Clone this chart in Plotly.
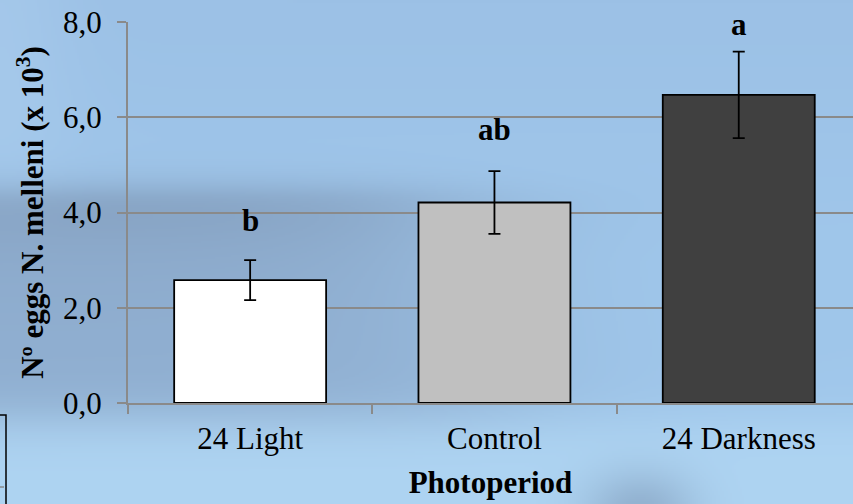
import base64
import struct
import zlib

import numpy as np
import plotly.graph_objects as go

# ---- data ----
photoperiods = ["24 Light", "Control", "24 Darkness"]
eggs_mean = [2.58, 4.21, 6.47]          # eggs (x 10^3)
eggs_err = [0.42, 0.66, 0.91]           # error bar half-length
group_letters = ["b", "ab", "a"]
letter_y = [3.84, 5.74, 7.94]
bar_colors = ["#ffffff", "#c0c0c0", "#404040"]

W, H = 853, 504
ML, MR, MT, MB = 128, 0, 22, 101
PW, PH = W - ML - MR, H - MT - MB
CAT_PX = 244.3  # pixel width of one category slot


def sig(z):
    return 1.0 / (1.0 + np.exp(-z))


def sky_background(w, h, scale=2):
    """Soft blue backdrop with a darker band on the left and a pale lower strip."""
    xs = np.arange(0, w, scale, dtype=float)
    ys = np.arange(0, h, scale, dtype=float)
    X, Y = np.meshgrid(xs, ys)

    top = np.array([156, 193, 230], float)
    mid = np.array([160, 199, 235], float)
    hill_dark = np.array([130, 156, 187], float)
    hill_soft = np.array([144, 175, 209], float)
    low = np.array([174, 212, 242], float)
    blob = np.array([128, 155, 186], float)

    t = np.clip(Y / 260.0, 0, 1)[..., None]
    img = top * (1 - t) + mid * t

    hill = sig((Y - 190) / 10.0) * sig((440 - X + (Y - 200) * 0.3) / 70.0)
    edge = np.exp(-np.clip(Y - 195, 0, None) / 45.0)
    hill_col = hill_soft[None, None, :] * (1 - edge[..., None]) + hill_dark * edge[..., None]
    img = img * (1 - hill[..., None]) + hill_col * hill[..., None]

    lowm = sig((Y - 418) / 14.0)[..., None]
    img = img * (1 - lowm) + low * lowm

    b = np.exp(-(((X - 640) / 55.0) ** 2 + ((Y - 510) / 40.0) ** 2))[..., None] * 0.6
    img = img * (1 - b) + blob * b

    tl = (np.exp(-((X / 70.0) ** 2)) * sig((175 - Y) / 20.0))[..., None] * 0.5
    img = img * (1 - tl) + np.array([172, 206, 238], float) * tl

    img = np.clip(img, 0, 255).astype(np.uint8)
    hh, ww, _ = img.shape
    raw = b"".join(b"\x00" + img[r].tobytes() for r in range(hh))

    def chunk(tag, data):
        c = struct.pack(">I", len(data)) + tag + data
        return c + struct.pack(">I", zlib.crc32(tag + data) & 0xFFFFFFFF)

    png = b"\x89PNG\r\n\x1a\n"
    png += chunk(b"IHDR", struct.pack(">IIBBBBB", ww, hh, 8, 2, 0, 0, 0))
    png += chunk(b"IDAT", zlib.compress(raw, 9))
    png += chunk(b"IEND", b"")
    return "data:image/png;base64," + base64.b64encode(png).decode()


FONT = "Liberation Serif"
FS = 31
GRID = "#8a8a8a"

fig = go.Figure(
    go.Bar(
        x=photoperiods,
        y=eggs_mean,
        width=0.622,
        marker=dict(color=bar_colors, line=dict(color="black", width=1.8)),
        error_y=dict(type="data", array=eggs_err, visible=True,
                     color="black", thickness=1.8, width=6),
        showlegend=False,
    )
)

for cat, txt, yv in zip(photoperiods, group_letters, letter_y):
    fig.add_annotation(x=cat, y=yv, text=f"<b>{txt}</b>", showarrow=False,
                       font=dict(family=FONT, size=FS, color="black"))

# right edge of the plotting area falls slightly before the last category boundary
x_hi = -0.5 + PW / CAT_PX

fig.update_layout(
    width=W, height=H,
    margin=dict(l=ML, r=MR, t=MT, b=MB),
    paper_bgcolor="#a4c8ea",
    plot_bgcolor="rgba(0,0,0,0)",
    separators=", ",
    font=dict(family=FONT, size=FS, color="black"),
    images=[dict(
        source=sky_background(W, H),
        xref="paper", yref="paper",
        x=-ML / PW, y=1 + MT / PH,
        sizex=W / PW, sizey=H / PH,
        xanchor="left", yanchor="top",
        sizing="stretch", layer="below",
    )],
    xaxis=dict(
        type="category",
        range=[-0.5, x_hi],
        tickson="boundaries",
        ticks="outside", ticklen=9, tickwidth=2, tickcolor=GRID,
        showline=True, linecolor=GRID, linewidth=2,
        showgrid=False,
        ticklabelstandoff=7,
        tickfont=dict(family=FONT, size=FS),
        title=dict(text="<b>Photoperiod</b>", font=dict(family=FONT, size=FS), standoff=16),
    ),
    yaxis=dict(
        range=[0, 8], dtick=2, tickformat=".1f",
        ticks="outside", ticklen=9, tickwidth=2, tickcolor=GRID,
        showline=True, linecolor=GRID, linewidth=2,
        showgrid=True, gridcolor=GRID, gridwidth=2,
        zeroline=False,
        ticklabelstandoff=9,
        tickfont=dict(family=FONT, size=FS),
        title=dict(text="<b>Nº eggs N. melleni (x 10<sup>3</sup>)</b>",
                   font=dict(family=FONT, size=FS), standoff=10),
    ),
)

# corner of the neighbouring frame at the lower left
def px_x(p):
    return (p - ML) / PW


def px_y(p):
    return (H - MB - p) / PH


fig.add_shape(type="path", xref="paper", yref="paper",
              path=f"M {px_x(0)} {px_y(415)} L {px_x(6)} {px_y(415)} L {px_x(6)} {px_y(505)}",
              line=dict(color="black", width=1.5))
fig.add_shape(type="line", xref="paper", yref="paper",
              x0=px_x(0), x1=px_x(4), y0=px_y(487), y1=px_y(487),
              line=dict(color="#8a8a8a", width=1.5))

fig.write_html("out.html")
